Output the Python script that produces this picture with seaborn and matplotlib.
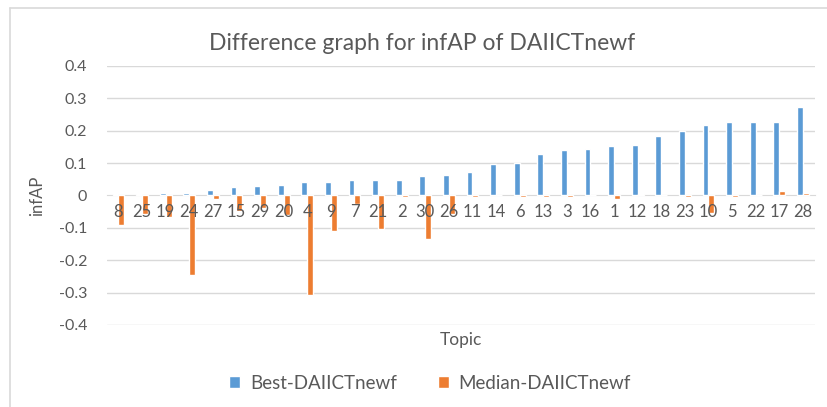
import matplotlib
matplotlib.use("Agg")
import matplotlib.pyplot as plt
import seaborn as sns
import pandas as pd
from matplotlib.lines import Line2D

# topics in the order shown on the chart
topics = ["8", "25", "19", "24", "27", "15", "29", "20", "4", "9",
          "7", "21", "2", "30", "26", "11", "14", "6", "13", "3",
          "16", "1", "12", "18", "23", "10", "5", "22", "17", "28"]

best_diff = [0.004, 0.004, 0.007, 0.008, 0.016, 0.027, 0.030, 0.033, 0.042, 0.042,
             0.049, 0.049, 0.049, 0.059, 0.064, 0.071, 0.098, 0.101, 0.127, 0.139,
             0.143, 0.153, 0.157, 0.183, 0.198, 0.217, 0.228, 0.228, 0.228, 0.272]

median_diff = [-0.090, -0.056, -0.068, -0.245, -0.010, -0.047, -0.039, -0.060, -0.308, -0.110,
               -0.025, -0.103, -0.005, -0.135, -0.058, -0.005, 0.0, -0.005, -0.005, -0.005,
               0.0, -0.010, 0.004, 0.0, -0.005, -0.055, -0.005, 0.0, 0.013, 0.009]

y_ticks = [-0.4, -0.3, -0.2, -0.1, 0, 0.1, 0.2, 0.3, 0.4]
y_tick_labels = ["-0.4", "-0.3", "-0.2", "-0.1", "0", "0.1", "0.2", "0.3", "0.4"]

series_names = ["Best-DAIICTnewf", "Median-DAIICTnewf"]
colors = ["#5B9BD5", "#ED7D31"]
text_gray = "#595959"
grid_gray = "#D9D9D9"

df = pd.DataFrame({
    "Topic": topics * 2,
    "infAP": best_diff + median_diff,
    "Series": [series_names[0]] * len(topics) + [series_names[1]] * len(topics),
})

sns.set_style("white")
plt.rcParams["font.family"] = ["Lato", "DejaVu Sans"]

fig = plt.figure(figsize=(8.27, 4.07), dpi=100)
ax = fig.add_axes([0.129, 0.2015, 0.856, 0.6365])

sns.barplot(data=df, x="Topic", y="infAP", hue="Series", order=topics,
            palette=colors, width=0.5, saturation=1, ax=ax, legend=True, zorder=2)

ax.set_ylim(-0.4, 0.4)
ax.set_xlim(-0.5, len(topics) - 0.5)
ax.set_yticks(y_ticks)
ax.set_yticklabels(y_tick_labels)

# gridlines behind bars, tick labels stay on top (as in Excel)
for yv in y_ticks:
    if yv != 0:
        ax.axhline(yv, color=grid_gray, linewidth=1, zorder=0)
ax.set_axisbelow(False)
ax.xaxis.set_zorder(5)

for side in ["top", "right", "left"]:
    ax.spines[side].set_visible(False)
ax.spines["bottom"].set_position(("data", 0))
ax.spines["bottom"].set_color(grid_gray)
ax.spines["bottom"].set_zorder(1)
ax.tick_params(axis="both", length=0, colors=text_gray)
ax.tick_params(axis="x", pad=6, labelsize=12)
ax.tick_params(axis="y", pad=14, labelsize=11.5)

ax.set_ylabel("infAP", color=text_gray, fontsize=12, labelpad=10)
ax.set_xlabel("")
fig.text(0.557, 0.165, "Topic", ha="center", va="center", color=text_gray, fontsize=12.5)

fig.suptitle("Difference graph for infAP of DAIICTnewf", x=0.51, y=0.92,
             color=text_gray, fontsize=16.5)

handles, labels = ax.get_legend_handles_labels()
ax.legend_.remove()
fig.legend(handles, labels, loc="center", bbox_to_anchor=(0.52, 0.058), ncol=2,
           frameon=False, fontsize=13.5, labelcolor=text_gray,
           handlelength=0.6, handleheight=0.6, columnspacing=2.2, handletextpad=0.5)

# partial chart-area border (top and left)
fig.add_artist(Line2D([0.012, 1.0], [0.98, 0.98], color=grid_gray, linewidth=1.2,
                      transform=fig.transFigure))
fig.add_artist(Line2D([0.012, 0.012], [0.0, 0.98], color=grid_gray, linewidth=1.2,
                      transform=fig.transFigure))

fig.savefig("out.png", dpi=100, facecolor="white")
